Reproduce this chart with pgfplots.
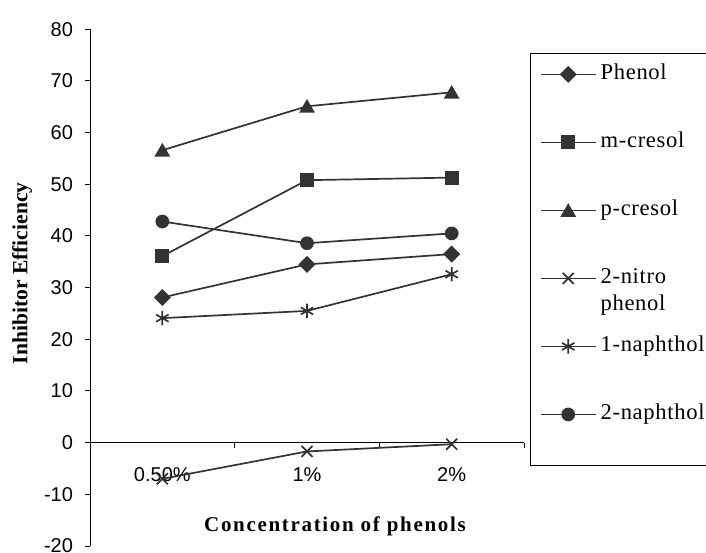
\documentclass[border=0pt]{standalone}
\usepackage{fontspec}
\usepackage{pgfplots}
\pgfplotsset{compat=1.18}
\setmainfont{Liberation Serif}
\newfontfamily\arial{Liberation Sans}
\newfontfamily\legfont[LetterSpace=3]{Liberation Serif}
\newfontfamily\titlefont[LetterSpace=8]{Liberation Serif}
\definecolor{ln}{HTML}{333333}
\begin{document}
\begin{tikzpicture}
\useasboundingbox (0,0) rectangle (353pt,276pt);
\begin{axis}[
  at={(45pt,3pt)}, anchor=south west,
  scale only axis, width=217pt, height=258.35pt,
  xmin=0.5, xmax=3.5, ymin=-20, ymax=80,
  axis y line=left, axis x line=middle,
  axis line style={-, black, line width=0.5pt},
  xtick={1.5,2.5,3.5}, xticklabels={},
  extra x ticks={1,2,3},
  extra x tick labels={0.50\%,1\%,2\%},
  extra x tick style={major tick length=0pt, xticklabel style={yshift=-8.8pt}},
  ytick={-20,-10,...,80},
  tick align=outside,
  major tick length=2.5pt,
  tick style={black, line width=0.5pt},
  ticklabel style={font=\arial\fontsize{10}{12}\selectfont},
  /pgf/number format/assume math mode=true,
  yticklabel style={xshift=-2.5pt},
  clip=false,
  every axis plot/.append style={ln, line width=0.85pt},
  legend style={draw=none, fill=none, at={(axis description cs:1.0357,0.9415)}, anchor=north west,
    inner sep=0pt, row sep=19.5pt, column sep=0pt,
    font=\legfont\fontsize{11.3}{13.5}\selectfont,
    nodes={inner sep=2pt, text height=8pt, text depth=2.5pt}},
  legend cell align=left,
  legend image code/.code={\draw[mark repeat=2,mark phase=2,#1] plot coordinates {(0pt,0pt) (13.75pt,0pt) (27.5pt,0pt)};},
]
\addplot[mark=square*, mark size=2.6pt, mark options={rotate=45}] coordinates {(1,28.1) (2,34.5) (3,36.5)};
\addlegendentry{Phenol}
\addplot[mark=square*, mark size=3.1pt] coordinates {(1,36.1) (2,50.8) (3,51.3)};
\addlegendentry{m-cresol}
\addplot[mark=triangle*, mark size=3.7pt, mark options={yshift=-0.9pt}] coordinates {(1,56.6) (2,65.1) (3,67.8)};
\addlegendentry{p-cresol}
\addplot[mark=x, mark size=3.9pt] coordinates {(1,-7.0) (2,-1.7) (3,-0.3)};
\addlegendentry{\begin{tabular}[t]{@{}l@{}}2-nitro\\phenol\end{tabular}}
\addplot[mark=asterisk, mark size=3.6pt] coordinates {(1,24.1) (2,25.5) (3,32.6)};
\addlegendentry{1-naphthol}
\addplot[mark=*, mark size=3pt] coordinates {(1,42.8) (2,38.6) (3,40.5)};
\addlegendentry{2-naphthol}
\end{axis}
\begin{scope}[x=1pt,y=1pt]
\draw[black, line width=0.5pt] (265,249.35) rectangle (360,43.15);
\node[rotate=90, font=\bfseries\fontsize{10.8}{13}\selectfont] at (11,139.25) {Inhibitor Efficiency};
\node[anchor=base, font=\titlefont\bfseries\fontsize{10.5}{13}\selectfont] at (167.5,10.15) {Concentration of phenols};
\end{scope}
\end{tikzpicture}
\end{document}
